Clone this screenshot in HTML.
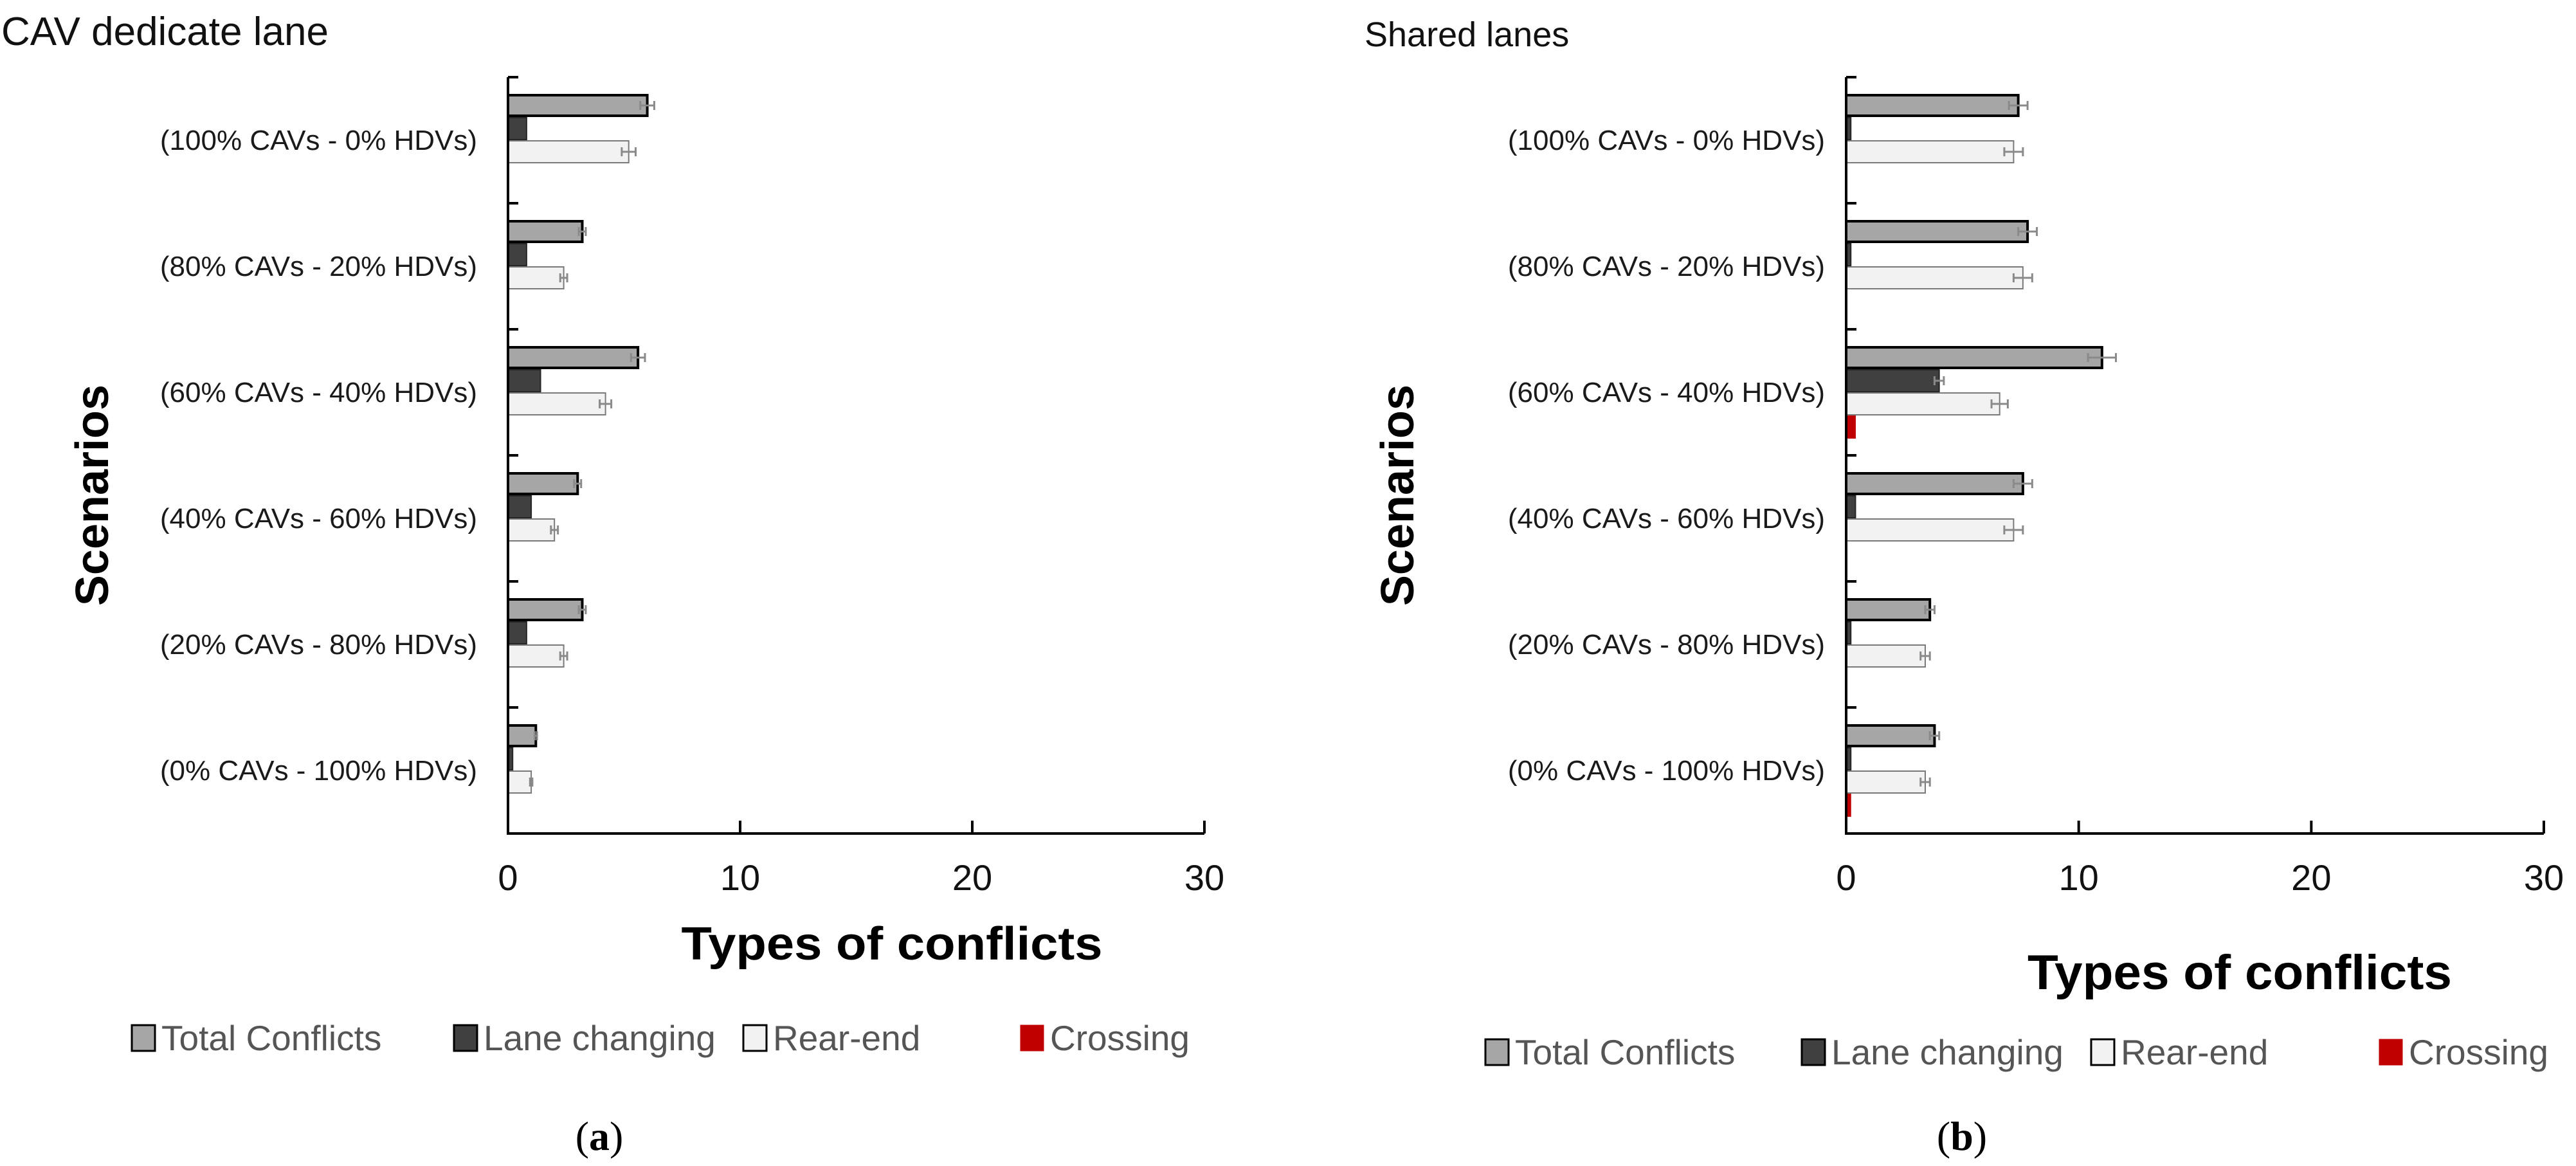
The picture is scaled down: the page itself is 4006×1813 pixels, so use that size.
<!DOCTYPE html>
<html><head><meta charset="utf-8"><style>
html,body{margin:0;padding:0;background:#fff;}
svg{display:block;}
</style></head><body>
<svg id="fig" width="4006" height="1813" viewBox="0 0 4006 1813" xmlns="http://www.w3.org/2000/svg" font-family="'Liberation Sans', sans-serif">
<rect x="0" y="0" width="4006" height="1813" fill="#fff"/>
<text x="2" y="70" font-size="62" fill="#111">CAV dedicate lane</text>
<text x="2122" y="72" font-size="54" fill="#111">Shared lanes</text>
<text x="932" y="1788" font-size="64" text-anchor="middle" font-family="'Liberation Serif', serif">(<tspan font-weight="bold">a</tspan>)</text>
<text x="3051" y="1788" font-size="64" text-anchor="middle" font-family="'Liberation Serif', serif">(<tspan font-weight="bold">b</tspan>)</text>
<g id="chartA"></g>
<g id="chartB"></g>
</svg>
<script>
const categories = ["(100% CAVs - 0% HDVs)","(80% CAVs - 20% HDVs)","(60% CAVs - 40% HDVs)","(40% CAVs - 60% HDVs)","(20% CAVs - 80% HDVs)","(0% CAVs - 100% HDVs)"];
const seriesNames = ["Total Conflicts","Lane changing","Rear-end","Crossing"];
const xTicks = [0,10,20,30];
// Panel (a) dedicated lane
const aTotal = [6.0,3.2,5.6,3.0,3.2,1.2];
const aLane = [0.8,0.8,1.4,1.0,0.8,0.2];
const aRear = [5.2,2.4,4.2,2.0,2.4,1.0];
const aCross = [0,0,0,0,0,0];
const aTotalErr = [0.3,0.15,0.3,0.15,0.15,0.05];
const aRearErr = [0.3,0.15,0.25,0.15,0.15,0.05];
// Panel (b) shared lanes
const bTotal = [7.4,7.8,11.0,7.6,3.6,3.8];
const bLane = [0.2,0.2,4.0,0.4,0.2,0.2];
const bRear = [7.2,7.6,6.6,7.2,3.4,3.4];
const bCross = [0,0,0.4,0,0,0.2];
const bTotalErr = [0.4,0.4,0.6,0.4,0.2,0.2];
const bLaneErr = [0,0,0.2,0,0,0];
const bRearErr = [0.4,0.4,0.35,0.4,0.2,0.2];

const NS = "http://www.w3.org/2000/svg";
function mk(tag, attrs, parent){const e=document.createElementNS(NS,tag);for(const k in attrs)e.setAttribute(k,attrs[k]);parent.appendChild(e);return e;}

const fills=["#a6a6a6","#404040","#f2f2f2","#c00000"];
const strokes=["#000","#262626","#7a7a7a","#c00000"];
const sw=[4,2,2,1];

function draw(g, cfg){
  const x0=cfg.x0, x1=cfg.x1, yTop=120, yBot=1296;
  const xs=v=>x0+(v/30)*(x1-x0);
  const groupH=(yBot-yTop)/categories.length;
  const barH=36, off=(groupH-4*barH)/2;
  const series=[cfg.total,cfg.lane,cfg.rear,cfg.cross];
  const errs=[cfg.totalErr,cfg.laneErr,cfg.rearErr,null];
  categories.forEach((c,i)=>{
    const gy=yTop+i*groupH;
    const lab=mk("text",{x:cfg.labelX,y:gy+groupH/2+15,"font-size":44,"text-anchor":"end",fill:"#1a1a1a"},g);
    lab.textContent=c;
    
    
    const tk=mk("line",{x1:x0,x2:x0+16,y1:gy,y2:gy,stroke:"#000","stroke-width":4},g);
    
    
    series.forEach((arr,s)=>{
      const v=arr[i]; if(!v) return;
      const by=gy+off+s*barH;
      const r=mk("rect",{x:x0,y:by+sw[s]/2,width:Math.max(xs(v)-x0,2),height:barH-sw[s],fill:fills[s],stroke:strokes[s],"stroke-width":sw[s]},g);
      
      
      const e=errs[s]?errs[s][i]:0;
      if(e){
        const cy=by+barH/2, ex1=xs(v-e), ex2=xs(v+e);
        const eb=mk("path",{d:`M${ex1},${cy}H${ex2}M${ex1},${cy-7}V${cy+7}M${ex2},${cy-7}V${cy+7}`,stroke:"#8a8a8a","stroke-width":3,fill:"none"},g);
        
        
      }
    });
  });
  const ax=mk("path",{d:`M${x0},${yTop}V${yBot}H${x1}`,stroke:"#000","stroke-width":4,fill:"none"},g);
  
  
  xTicks.forEach(t=>{
    if(t>0){const l=mk("line",{x1:xs(t),x2:xs(t),y1:yBot,y2:yBot-20,stroke:"#000","stroke-width":4},g);
      
      }
    const tl=mk("text",{x:xs(t),y:1384,"font-size":56,"text-anchor":"middle",fill:"#111"},g);
    tl.textContent=t;
    
    
  });
  const yt=mk("text",{transform:`translate(${cfg.yTitleX},770) rotate(-90)`,"font-size":72,"font-weight":"bold","text-anchor":"middle"},g);
  yt.textContent="Scenarios";
  
  
  const xt=mk("text",{x:cfg.xTitleX,y:cfg.xTitleY,"font-size":cfg.xTitleSize,"font-weight":"bold","text-anchor":"middle",textLength:cfg.xTitleW,lengthAdjust:"spacingAndGlyphs"},g);
  xt.textContent="Types of conflicts";
  
  
  seriesNames.forEach((n,s)=>{
    const bx=cfg.legX[s], ly=cfg.legY;
    const b=mk("rect",{x:bx,y:ly-20,width:36,height:40,fill:fills[s],stroke:s==3?"#c00000":"#000","stroke-width":s==3?1:3},g);
    
    
    const t=mk("text",{x:bx+46,y:ly+19,"font-size":55,fill:"#555"},g);
    t.textContent=n;
    
    
  });
}
draw(document.getElementById("chartA"),{x0:790,x1:1873,labelX:742,total:aTotal,lane:aLane,rear:aRear,cross:aCross,totalErr:aTotalErr,laneErr:null,rearErr:aRearErr,yTitleX:168,xTitleX:1387,xTitleY:1492,xTitleSize:72,xTitleW:655,legX:[205,706,1156,1587],legY:1614});
draw(document.getElementById("chartB"),{x0:2871,x1:3956,labelX:2838,total:bTotal,lane:bLane,rear:bRear,cross:bCross,totalErr:bTotalErr,laneErr:bLaneErr,rearErr:bRearErr,yTitleX:2198,xTitleX:3483,xTitleY:1538,xTitleSize:76,xTitleW:660,legX:[2310,2802,3252,3700],legY:1636});
</script>
</body></html>
